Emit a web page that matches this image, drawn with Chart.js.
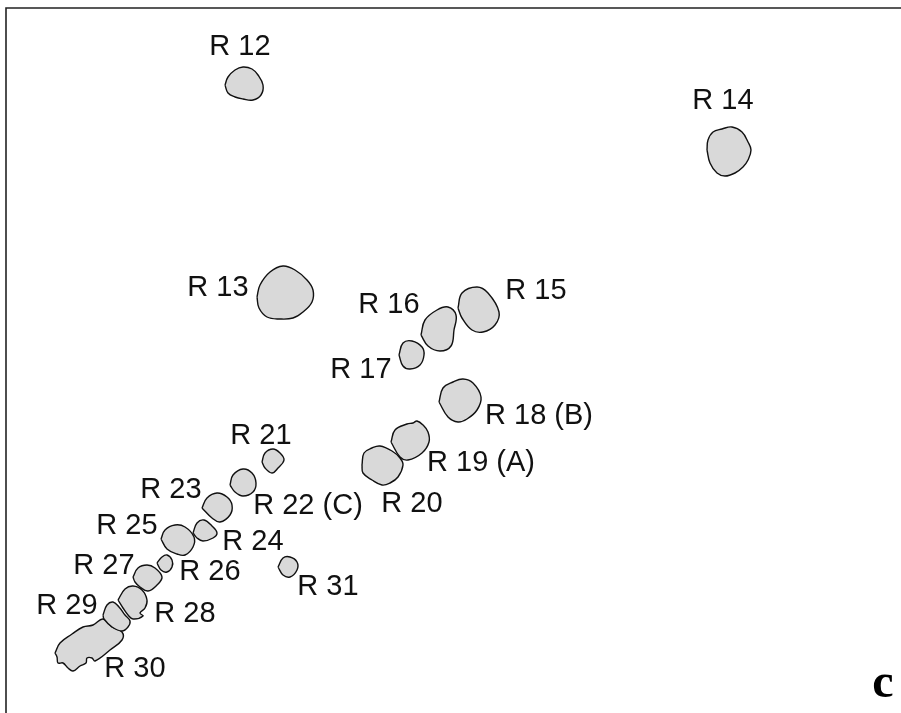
<!DOCTYPE html>
<html>
<head>
  <script src="https://cdn.jsdelivr.net/npm/chart.js"></script>
  <style>
    html, body { margin: 0; padding: 0; background: #fff; }
    canvas { display: block; }
  </style>
</head>
<body>
  <canvas id="chartContainer" width="901" height="713"></canvas>
  <script>
    // outlines, x / y in image units
    const r12 = [[225,85],[228,77],[235,70],[243,67],[252,69],[258,75],[263,85],[261,95],[253,100],[243,99],[235,97],[228,93]];
    const r13 = [[257,297],[260,285],[270,272],[283,266],[295,270],[307,280],[313,290],[312,302],[303,312],[293,318],[280,319],[267,317],[259,308]];
    const r14 = [[707,150],[708,140],[713,132],[722,129],[732,127],[742,132],[748,142],[751,150],[748,160],[743,167],[735,173],[725,176],[717,173],[710,163]];
    const r15 = [[458,308],[462,293],[477,287],[488,293],[499,312],[495,325],[483,332],[472,330],[462,318]];
    const r16 = [[421,335],[425,320],[437,310],[448,307],[456,315],[454,330],[451,346],[440,351],[428,346]];
    const r17 = [[399,355],[403,343],[412,341],[422,347],[424,355],[420,365],[410,369],[403,366]];
    const r18 = [[439,402],[443,388],[453,382],[463,379],[473,383],[481,397],[477,410],[467,419],[458,422],[448,417]];
    const r19 = [[391,442],[395,430],[407,424],[413,423],[417,421],[423,425],[428,432],[429,442],[422,453],[408,460],[400,457]];
    const r20 = [[362,465],[364,453],[372,448],[380,446],[392,451],[400,458],[403,465],[398,477],[390,483],[382,485],[372,480],[363,473]];
    const r21 = [[262,462],[265,453],[273,449],[280,453],[284,460],[278,468],[272,473],[265,468]];
    const r22 = [[230,485],[233,475],[243,469],[252,473],[256,483],[253,492],[243,496],[235,492]];
    const r23 = [[202,508],[207,498],[217,493],[227,497],[232,505],[230,515],[220,522],[212,518]];
    const r24 = [[193,533],[197,523],[204,520],[212,526],[217,533],[213,538],[203,541],[197,538]];
    const r25 = [[161,539],[165,530],[175,525],[185,527],[194,537],[193,547],[185,555],[177,554],[167,549]];
    const r26 = [[157,563],[162,557],[167,555],[172,560],[172,567],[167,572],[161,570]];
    const r27 = [[133,577],[138,568],[147,565],[155,568],[162,577],[157,585],[148,591],[140,587],[135,582]];
    const r28 = [[118,600],[125,589],[133,586],[142,590],[147,600],[145,608],[140,613],[143,616],[133,619],[128,615],[123,608]];
    const r29 = [[103,615],[107,605],[113,602],[119,607],[125,615],[130,621],[128,627],[122,631],[112,627],[104,619]];
    const r30 = [[55,653],[60,643],[72,634],[83,627],[93,625],[103,619],[112,627],[122,632],[122,640],[110,650],[95,661],[92,658],[87,658],[86,663],[80,666],[73,671],[68,668],[63,663],[58,663],[57,657]];
    const r31 = [[278,567],[283,558],[290,557],[297,562],[297,570],[290,577],[283,575]];

    const regions = [r12, r13, r14, r15, r16, r17, r18, r19, r20, r21, r22, r23, r24, r25, r26, r27, r28, r29, r30, r31];
    const regionNames = ['R 12', 'R 13', 'R 14', 'R 15', 'R 16', 'R 17', 'R 18 (B)', 'R 19 (A)', 'R 20', 'R 21', 'R 22 (C)', 'R 23', 'R 24', 'R 25', 'R 26', 'R 27', 'R 28', 'R 29', 'R 30', 'R 31'];
    const labelX = [240, 218, 723, 536, 389, 361, 539, 481, 412, 261, 308, 171, 253, 127, 210, 104, 185, 67, 135, 328];
    const labelY = [47, 288, 101, 291, 305, 370, 416, 463, 504, 436, 506, 490, 542, 526, 572, 566, 614, 606, 669, 587];
    const frame = [[6,713],[6,8],[901,8]];

    const toPoints = (arr) => arr.map(p => ({ x: p[0], y: p[1] }));

    const datasets = regions.map((r, i) => ({
      label: regionNames[i],
      data: toPoints(r.concat([r[0]])), // repeat first point to close the outline
      showLine: true,
      tension: 0.4,
      borderColor: '#111',
      borderWidth: 1.4,
      fill: false,
      pointRadius: 0
    }));
    datasets.push({
      label: 'frame',
      data: toPoints(frame),
      showLine: true,
      tension: 0,
      borderColor: '#222',
      borderWidth: 1.6,
      fill: false,
      pointRadius: 0
    });

    // the filler plugin clips to the x span first..last, which is empty on a closed
    // outline, so fill the line element's own path here instead
    const blobFill = {
      id: 'blobFill',
      beforeDatasetDraw(chart, args) {
        if (args.index >= regions.length) return;
        const ctx = chart.ctx;
        ctx.save();
        ctx.beginPath();
        args.meta.dataset.path(ctx);
        ctx.fillStyle = '#d9d9d9';
        ctx.fill();
        ctx.restore();
      }
    };

    const textPlugin = {
      id: 'regionText',
      afterDatasetsDraw(chart) {
        const ctx = chart.ctx;
        const xs = chart.scales.x, ys = chart.scales.y;
        ctx.save();
        ctx.fillStyle = '#111';
        ctx.textAlign = 'center';
        ctx.textBaseline = 'middle';
        ctx.font = '29px "Liberation Sans"';
        regionNames.forEach((name, i) => {
          ctx.fillText(name, xs.getPixelForValue(labelX[i]), ys.getPixelForValue(labelY[i]));
        });
        ctx.font = 'bold 48px "Liberation Serif"';
        ctx.fillStyle = '#000';
        ctx.fillText('c', xs.getPixelForValue(883), ys.getPixelForValue(685));
        ctx.restore();
      }
    };

    new Chart(document.getElementById('chartContainer').getContext('2d'), {
      type: 'scatter',
      data: { datasets: datasets },
      plugins: [blobFill, textPlugin],
      options: {
        responsive: false,
        animation: false,
        layout: { padding: 0 },
        plugins: { legend: { display: false }, tooltip: { enabled: false } },
        scales: {
          x: { type: 'linear', display: false, min: 0, max: 901 },
          y: { type: 'linear', display: false, min: 0, max: 713, reverse: true }
        }
      }
    });
  </script>
</body>
</html>
